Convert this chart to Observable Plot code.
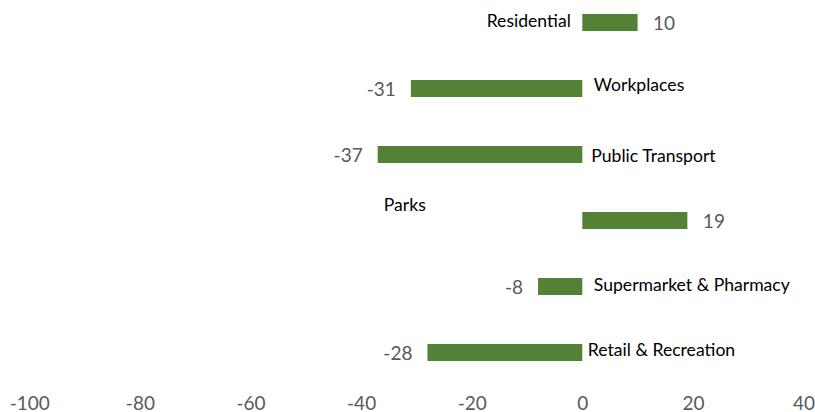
<!DOCTYPE html>
<html>
<head>
<meta charset="utf-8">
<script src="https://cdn.jsdelivr.net/npm/d3@7"></script>
<script src="https://cdn.jsdelivr.net/npm/@observablehq/plot@0.6"></script>
<style>
  html, body { margin: 0; padding: 0; background: #fff; }
  #chart { width: 815px; height: 412px; overflow: hidden; }
</style>
</head>
<body>
<div id="chart"></div>
<script>
// ---- data ----
const categories = ["Residential", "Workplaces", "Public Transport", "Parks", "Supermarket & Pharmacy", "Retail & Recreation"];
const values = [10, -31, -37, 19, -8, -28];
const xTicks = [-100, -80, -60, -40, -20, 0, 20, 40];

// ---- label placement (pixel offsets from x=0 / band centre, as in reference) ----
const labelLayout = {
  "Residential":            {anchor: "end",   dx: -12,  dy: -1.5},
  "Workplaces":             {anchor: "start", dx: 11,   dy: -3.5},
  "Public Transport":       {anchor: "start", dx: 8.5,  dy: 1.5},
  "Parks":                  {anchor: "start", dx: -199, dy: -16},
  "Supermarket & Pharmacy": {anchor: "start", dx: 11,   dy: -1.7},
  "Retail & Recreation":    {anchor: "start", dx: 5,    dy: -2.7}
};

const rows = categories.map((c, i) => ({category: c, value: values[i]}));

const barColor = "#538135";
const valueColor = "#595959";
const font = "Lato, 'Open Sans', sans-serif";

const catMarks = categories.map(c => {
  const L = labelLayout[c];
  return Plot.text([c], {
    x: () => 0, y: d => d, text: d => d,
    textAnchor: L.anchor, dx: L.dx, dy: L.dy,
    fontSize: 17.6, fill: "#000"
  });
});

const chart = Plot.plot({
  width: 815,
  height: 412,
  marginLeft: 29.3,
  marginRight: 11.5,
  marginTop: 0,
  marginBottom: 16.5,
  style: {fontFamily: font, background: "#fff", overflow: "visible"},
  x: {domain: [-100, 40]},
  y: {domain: categories, range: [-11.15, 386.65], paddingInner: 0.739, paddingOuter: 0.3695, axis: null},
  marks: [
    Plot.barX(rows, {x: "value", y: "category", fill: barColor}),
    Plot.text(rows.filter(d => d.value >= 0), {
      x: "value", y: "category", text: d => String(d.value),
      textAnchor: "start", dx: 15, dy: 1, fontSize: 19, fill: valueColor
    }),
    Plot.text(rows.filter(d => d.value < 0), {
      x: "value", y: "category", text: d => String(d.value),
      textAnchor: "end", dx: -15.5, dy: 0.5, fontSize: 19, fill: valueColor
    }),
    ...catMarks,
    Plot.axisX({
      ticks: xTicks, tickSize: 0, tickPadding: 0,
      tickFormat: d => String(d), fontSize: 19, color: valueColor, label: null
    })
  ]
});
document.getElementById("chart").appendChild(chart);
</script>
</body>
</html>
